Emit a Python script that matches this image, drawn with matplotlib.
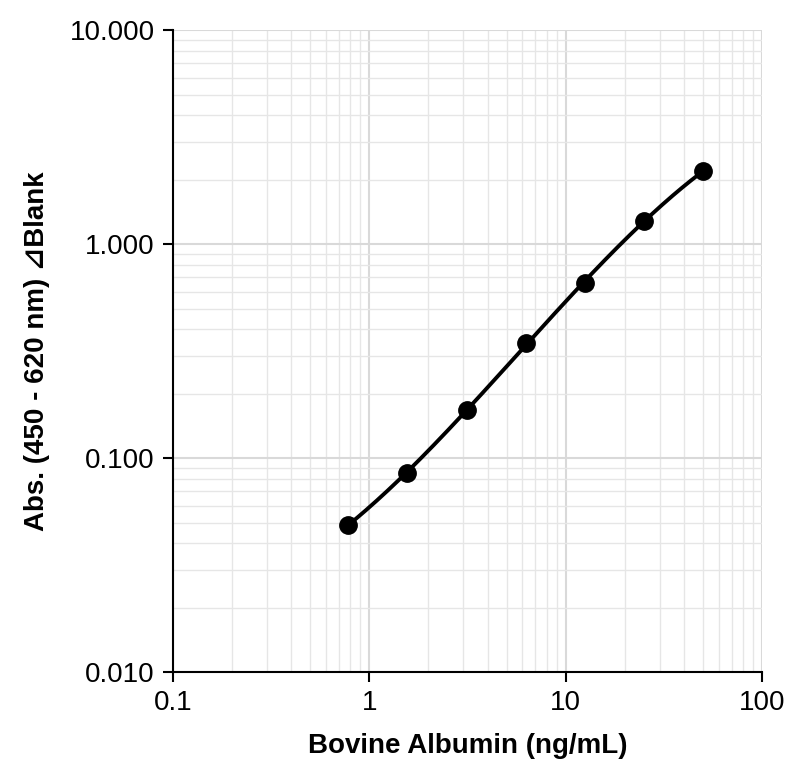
import numpy as np
import matplotlib
matplotlib.use('Agg')
import matplotlib.pyplot as plt
from matplotlib.ticker import FixedLocator, FixedFormatter, LogLocator, NullFormatter

conc = [0.78, 1.56, 3.125, 6.25, 12.5, 25, 50]
absorb = [0.049, 0.085, 0.168, 0.345, 0.66, 1.28, 2.2]
xticks = [0.1, 1, 10, 100]
xlabels = ['0.1', '1', '10', '100']
yticks = [0.01, 0.1, 1, 10]
ylabels = ['0.010', '0.100', '1.000', '10.000']

plt.rcParams['font.family'] = ['Liberation Sans', 'DejaVu Sans', 'Noto Sans CJK JP']

fig = plt.figure(figsize=(8, 7.71), dpi=100)
ax = fig.add_axes([0.216, 0.128, 0.737, 0.833])

# smooth curve through the points in log space
lx = np.log10(conc)
ly = np.log10(absorb)
coef = np.polyfit(lx, ly, 3)
xs = np.linspace(lx[0], lx[-1], 200)
ax.plot(10**xs, 10**np.polyval(coef, xs), color='black', lw=2.8, zorder=3)
ax.plot(conc, absorb, 'o', color='black', ms=12.5, zorder=4)

ax.set_xscale('log')
ax.set_yscale('log')
ax.set_xlim(0.1, 100)
ax.set_ylim(0.01, 10)
ax.xaxis.set_major_locator(FixedLocator(xticks))
ax.xaxis.set_major_formatter(FixedFormatter(xlabels))
ax.yaxis.set_major_locator(FixedLocator(yticks))
ax.yaxis.set_major_formatter(FixedFormatter(ylabels))
ax.xaxis.set_minor_locator(LogLocator(subs=np.arange(2, 10)))
ax.yaxis.set_minor_locator(LogLocator(subs=np.arange(2, 10)))
ax.xaxis.set_minor_formatter(NullFormatter())
ax.yaxis.set_minor_formatter(NullFormatter())

ax.grid(which='major', color='#d9d9d9', lw=1.5)
ax.grid(which='minor', color='#e6e6e6', lw=1.0)
ax.set_axisbelow(True)
for s in ['top', 'right']:
    ax.spines[s].set_visible(False)
for s in ['left', 'bottom']:
    ax.spines[s].set_linewidth(1.5)
ax.tick_params(which='major', length=7, width=1.5, direction='out', labelsize=20, pad=6)
ax.tick_params(which='minor', length=0)

ax.set_xlabel('Bovine Albumin (ng/mL)', fontsize=20, fontweight='bold', labelpad=12)
ax.set_ylabel('Abs. (450 - 620 nm) ⊿Blank', fontsize=20, fontweight='bold', labelpad=14)

fig.savefig('out.png', dpi=100)
